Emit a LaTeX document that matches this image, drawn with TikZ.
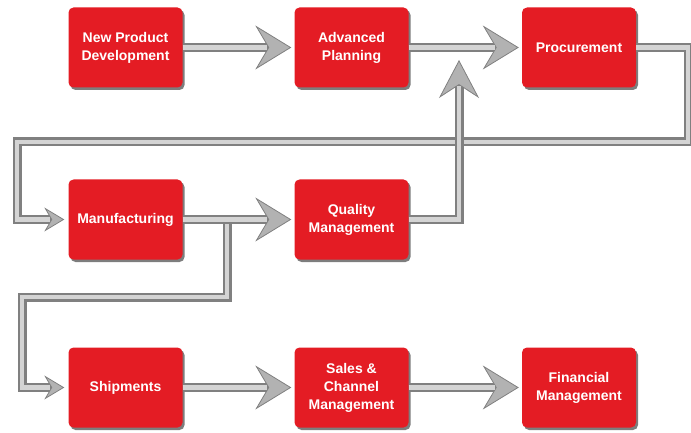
\documentclass[tikz,border=0pt]{standalone}
\usepackage{fontspec}
\setmainfont{Liberation Sans}
\usetikzlibrary{arrows.meta,shadows}
\definecolor{boxred}{RGB}{228,28,36}
\definecolor{pipeout}{RGB}{128,128,128}
\definecolor{pipein}{RGB}{212,212,212}
\definecolor{headfill}{RGB}{178,178,178}
\begin{document}
\begin{tikzpicture}[x=1pt,y=-1pt,
  box/.style={fill=boxred, rounded corners=5pt, minimum width=114pt, minimum height=80pt,
    align=center, text=white, font=\bfseries\fontsize{14}{18}\selectfont,
    drop shadow={shadow xshift=2pt, shadow yshift=-2.5pt, fill=black!85, opacity=0.6}},
  pipe/.style={draw=pipeout, line width=9pt,
    postaction={draw=pipein, line width=4.5pt, -, shorten >=#1}},
  bighead/.style={shorten >=3pt, -{Stealth[length=36pt,width=44pt,inset=13pt,fill=headfill,color=black!50,line width=0.8pt]}},
  smallhead/.style={shorten >=4pt, -{Stealth[length=20pt,width=24pt,inset=7pt,fill=headfill,color=black!50,line width=0.8pt]}},
  uphead/.style={-{Stealth[length=38pt,width=40pt,inset=13pt,fill=headfill,color=black!50,line width=0.8pt]}}
]
\useasboundingbox (0,0) rectangle (691,433);

\node[box] (npd) at (125.5,47.5) {New Product\\Development};
\node[box] (ap)  at (351.5,47.5) {Advanced\\Planning};
\node[box] (pr)  at (579,47.5) {Procurement};
\node[box] (mf)  at (125.5,219.5) {Manufacturing};
\node[box] (qm)  at (351.5,219.5) {Quality\\Management};
\node[box] (sh)  at (125.5,387.5) {Shipments};
\node[box] (sc)  at (351.5,387.5) {Sales \&\\Channel\\Management};
\node[box] (fm)  at (579,387.5) {Financial\\Management};

\coordinate (r1) at (688,142);
\coordinate (l1) at (17,142);
\coordinate (br) at (227,219.5);
\coordinate (b2) at (22,297);
\coordinate (up) at (459,60);

% loop from Procurement back to Manufacturing
\draw[pipe=18pt, smallhead] (pr.east) -| (r1) -- (l1) |- (mf.west);
% Quality Management up to the Advanced Planning -> Procurement arrow
\draw[pipe=26pt, uphead] (qm.east) -| (up);
% branch from Manufacturing to Shipments
\draw[pipe=18pt, smallhead] (br) |- (b2) |- (sh.west);

\draw[pipe=27pt, bighead] (npd.east) -- (ap.west);
\draw[pipe=27pt, bighead] (ap.east) -- (pr.west);
\draw[pipe=27pt, bighead] (mf.east) -- (qm.west);
\draw[pipe=27pt, bighead] (sh.east) -- (sc.west);
\draw[pipe=27pt, bighead] (sc.east) -- (fm.west);
\end{tikzpicture}
\end{document}
